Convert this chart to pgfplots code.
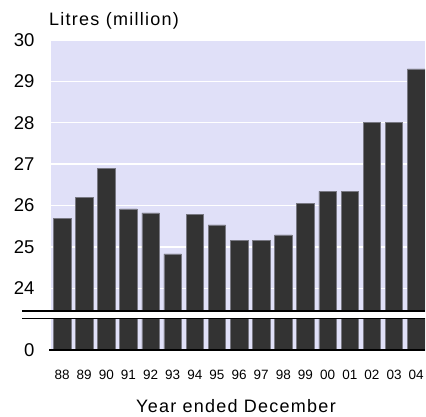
\documentclass[border=0pt]{standalone}
\usepackage{fontspec}
\setmainfont{Liberation Sans}
\usepackage{pgfplots}
\usepackage{pgfplotstable}
\pgfplotsset{compat=1.18}
\definecolor{lav}{RGB}{224,224,248}
\definecolor{barc}{RGB}{51,51,51}
\definecolor{bard}{RGB}{120,120,130}
\pgfplotstableread{
x y
0 25.68
1 26.20
2 26.90
3 25.92
4 25.82
5 24.83
6 25.78
7 25.53
8 25.15
9 25.15
10 25.29
11 26.06
12 26.34
13 26.34
14 28.00
15 28.00
16 29.30
}\datatab
\newcommand{\bigfont}{\fontsize{18}{20}\selectfont\addfontfeature{LetterSpace=7}}
\begin{document}
\begin{tikzpicture}[x=1pt,y=1pt]
\path[use as bounding box] (0,0) rectangle (426,-416);
\begin{axis}[at={(51pt,-40pt)}, anchor=north west, scale only axis,
  width=374pt, height=271pt,
  xmin=-0.5, xmax=16.4, ymin=23.45, ymax=30,
  axis background/.style={fill=lav},
  axis line style={draw=none},
  ytick={24,25,26,27,28,29,30},
  ymajorgrids, grid style={white, line width=1.3pt},
  major tick length=0pt, xtick=\empty,
  /pgf/number format/assume math mode=true,
  yticklabel style={font=\fontsize{18.5}{20}\selectfont, anchor=east, xshift=-13pt},
  clip=true]
\addplot[ybar, bar width=17.5pt, bar shift=0pt, fill=barc, draw=bard, line width=0.6pt] table[x=x,y=y]{\datatab};
\end{axis}
\begin{axis}[at={(51pt,-318pt)}, anchor=north west, scale only axis,
  width=374pt, height=32pt,
  xmin=-0.5, xmax=16.4, ymin=0, ymax=10,
  axis background/.style={fill=lav},
  axis line style={draw=none},
  ytick={0}, major tick length=0pt,
  xtick={0,...,16},
  xticklabels={88,89,90,91,92,93,94,95,96,97,98,99,00,01,02,03,04},
  /pgf/number format/assume math mode=true,
  yticklabel style={font=\fontsize{18.5}{20}\selectfont, anchor=east, xshift=-13pt},
  xticklabel style={font=\fontsize{13.5}{14}\selectfont, anchor=north, yshift=-17pt},
  clip=true]
\addplot[ybar, bar width=17.5pt, bar shift=0pt, fill=barc, draw=bard, line width=0.6pt] table[x=x,y=y]{\datatab};
\end{axis}
\draw[black, line width=1.4pt] (22,-311) -- (425,-311);
\draw[black, line width=1.4pt] (22,-318.5) -- (425,-318.5);
\draw[black, line width=1.4pt] (49,-350) -- (425,-350);
\node[anchor=west, inner sep=0pt] at (49,-21) {\bigfont Litres (million)};
\node[inner sep=0pt] at (236,-406) {\bigfont Year ended December};
\end{tikzpicture}
\end{document}
